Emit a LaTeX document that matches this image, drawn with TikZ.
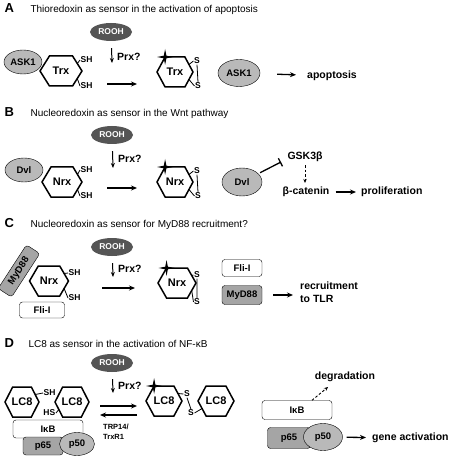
\documentclass[tikz,border=0pt]{standalone}
\usepackage{fontspec}
\setmainfont{Liberation Sans}
\usepackage{tikz}
\usetikzlibrary{arrows.meta}
\usetikzlibrary{shapes.geometric}
\definecolor{roohgray}{RGB}{85,85,85}
\definecolor{protgray}{RGB}{185,185,185}
\definecolor{boxgray}{RGB}{165,165,165}
\newcommand{\hexa}[4][20]{%
  \node[hexlbl] (#2) at (#3) {#4};
  \path (#2.center)
    +(-#1,0) coordinate (#2-l)
    +({-0.55*#1},-15) coordinate (#2-tl)
    +({0.55*#1},-15) coordinate (#2-tr)
    +(#1,0) coordinate (#2-r)
    +({0.55*#1},15) coordinate (#2-br)
    +({-0.55*#1},15) coordinate (#2-bl)
    +({0.775*#1},-7.5) coordinate (#2-ur)
    +({0.775*#1},7.5) coordinate (#2-lr)
    +({-0.775*#1},7.5) coordinate (#2-ll);
  \draw[hexline] (#2-l) -- (#2-tl) -- (#2-tr) -- (#2-r) -- (#2-br) -- (#2-bl) -- cycle;
}
\newcommand{\oxstar}[1]{%
  \fill (#1) +(0,-8) -- +(1.3,-1.3) -- +(8,0) -- +(1.3,1.3) -- +(0,8) -- +(-1.3,1.3) -- +(-8,0) -- +(-1.3,-1.3) -- cycle;
}
\tikzset{
    panel/.style={anchor=base west, font=\fontsize{13}{15}\selectfont\bfseries},
    ttl/.style={anchor=base west, font=\fontsize{10}{12}\selectfont},
    lbl/.style={font=\fontsize{10.5}{12.5}\selectfont\bfseries, inner sep=1pt},
    small/.style={font=\fontsize{8.5}{10}\selectfont\bfseries, inner sep=0.5pt},
    hexlbl/.style={font=\fontsize{11}{13}\selectfont\bfseries, inner sep=0pt},
    hexline/.style={line width=1.5pt, line join=miter},
    rooh/.style={ellipse, fill=roohgray, text=white, minimum width=42, minimum height=18, inner sep=0pt, font=\fontsize{8.5}{10}\selectfont\bfseries},
    prot/.style={ellipse, draw, fill=protgray, minimum width=38, minimum height=24, inner sep=0pt, font=\fontsize{9.5}{11}\selectfont\bfseries},
    pbox/.style={rectangle, rounded corners=3, draw, minimum width=40, minimum height=17, inner sep=0pt, font=\fontsize{9.5}{11}\selectfont\bfseries},
    prxarrow/.style={-{Stealth[length=5pt,width=4pt]}, line width=1pt},
    react/.style={-{Stealth[length=6pt,width=5pt]}, line width=1.3pt},
    dasharrow/.style={-{Stealth[length=4pt,width=3.5pt]}, line width=0.9pt, dash pattern=on 2.5pt off 2pt},
    inhib/.style={-{Bar[width=9pt,line width=1.3pt]}, line width=1.3pt},
    bond/.style={line width=0.8pt}
}
\begin{document}
\begin{tikzpicture}[x=1pt, y=-1pt]
    \useasboundingbox (0,0) rectangle (454,462);

    % A: thioredoxin
    \node[panel] (labA) at (1,13) {A};
    \node[ttl] (ttlA) at (27,13) {Thioredoxin as sensor in the activation of apoptosis};
    \node[rooh] (roohA) at (111,32) {ROOH};
    \coordinate (prxA) at (112,63);
    \node[lbl, anchor=west] (prxlA) at (116,57) {Prx?};
    \hexa[21]{trxA}{61,71}{Trx}
    \node[prot] (ask1A) at (23,62) {ASK1};
    \node[small, anchor=west] (shA1) at (80,60) {SH};
    \node[small, anchor=west] (shA2) at (80,86) {SH};
    \coordinate (arrA1) at (107,84);
    \coordinate (arrA2) at (137,84);
    \hexa[18]{oxA}{175,72}{Trx}
    \oxstar{oxA-tl}
    \node[small] (sA1) at (197,61) {S};
    \node[small] (sA2) at (198,86) {S};
    \node[prot, minimum width=42, minimum height=27] (ask1A2) at (239,73) {ASK1};
    \node[lbl, anchor=west] (apopA) at (306,76) {apoptosis};

    \draw[prxarrow, shorten <=7] (roohA) -- (prxA);
    \draw[bond] (trxA-ur) -- (shA1.west) (trxA-lr) -- (shA2.west);
    \draw[react] (arrA1) -- (arrA2);
    \draw[bond] (oxA-ur) -- (sA1.west) (oxA-lr) -- (sA2.west) (sA1.south) -- (sA2.north);
    \draw[react, shorten <=17, shorten >=10] (ask1A2) -- (apopA);

    % B: nucleoredoxin, Wnt
    \node[panel] (labB) at (1,117) {B};
    \node[ttl] (ttlB) at (27,117) {Nucleoredoxin as sensor in the Wnt pathway};
    \node[rooh] (roohB) at (112,135) {ROOH};
    \coordinate (prxB) at (113,168);
    \node[lbl, anchor=west] (prxlB) at (117,159) {Prx?};
    \hexa{nrxB}{62,182}{Nrx}
    \node[prot] (dvlB) at (24,170) {Dvl};
    \node[small, anchor=west] (shB1) at (80,170) {SH};
    \node[small, anchor=west] (shB2) at (80,196) {SH};
    \coordinate (arrB1) at (107,188);
    \coordinate (arrB2) at (137,188);
    \hexa[18]{oxB}{175,182}{Nrx}
    \oxstar{oxB-tl}
    \node[small] (sB1) at (197,171) {S};
    \node[small] (sB2) at (198,196) {S};
    \node[prot, minimum width=40, minimum height=28] (dvlB2) at (242,182) {Dvl};
    \coordinate (barB) at (281,162);
    \node[lbl] (gskB) at (305,157) {GSK3β};
    \node[lbl] (catB) at (306,192) {β-catenin};
    \node[lbl, anchor=west] (prolB) at (360,192) {proliferation};

    \draw[prxarrow, shorten <=7] (roohB) -- (prxB);
    \draw[bond] (nrxB-ur) -- (shB1.west) (nrxB-lr) -- (shB2.west);
    \draw[react] (arrB1) -- (arrB2);
    \draw[bond] (oxB-ur) -- (sB1.west) (oxB-lr) -- (sB2.west) (sB1.south) -- (sB2.north);
    \draw[inhib, shorten <=2] (dvlB2) -- (barB);
    \draw[dasharrow, shorten <=2, shorten >=3] (gskB.south) -- (gskB.south |- catB.north);
    \draw[react, shorten <=5, shorten >=4] (catB) -- (prolB);

    % C: nucleoredoxin, MyD88
    \node[panel] (labC) at (1,227) {C};
    \node[ttl] (ttlC) at (27,227) {Nucleoredoxin as sensor for MyD88 recruitment?};
    \node[rooh] (roohC) at (112,247) {ROOH};
    \coordinate (prxC) at (113,277);
    \node[lbl, anchor=west] (prxlC) at (117,269) {Prx?};
    \hexa[19.5]{nrxC}{49,281}{Nrx}
    \node[pbox, fill=boxgray, minimum width=52, minimum height=16, rotate=57] (mydC) at (19,271) {MyD88};
    \node[pbox, fill=white, minimum width=45, minimum height=16] (fliC) at (42,310) {Fli-I};
    \node[small, anchor=west] (shC1) at (68,273) {SH};
    \node[small, anchor=west] (shC2) at (68,298) {SH};
    \coordinate (arrC1) at (102,288);
    \coordinate (arrC2) at (135,288);
    \hexa[19]{oxC}{177,283}{Nrx}
    \oxstar{oxC-tl}
    \node[small] (sC1) at (197,275) {S};
    \node[small] (sC2) at (197,302) {S};
    \node[pbox, fill=white] (fliC2) at (242,268) {Fli-I};
    \node[pbox, fill=boxgray, minimum height=19] (mydC2) at (242,295) {MyD88};
    \node[lbl, anchor=west, align=left] (recC) at (299,292) {recruitment\\to TLR};

    \draw[prxarrow, shorten <=7] (roohC) -- (prxC);
    \draw[bond] (nrxC-ur) -- (shC1.west) (nrxC-lr) -- (shC2.west);
    \draw[react] (arrC1) -- (arrC2);
    \draw[bond] (oxC-ur) -- (sC1.west) (oxC-lr) -- (sC2.west) (sC1.south) -- (sC2.north);
    \draw[react, shorten <=11, shorten >=6] (mydC2) -- (mydC2 -| recC.west);

    % D: LC8, NF-kB
    \node[panel] (labD) at (1,347) {D};
    \node[ttl] (ttlD) at (25,347) {LC8 as sensor in the activation of NF-κB};
    \node[rooh] (roohD) at (112,363) {ROOH};
    \coordinate (prxD) at (113,393);
    \node[lbl, anchor=west] (prxlD) at (117,386) {Prx?};
    \hexa[17]{lcA}{22,402}{LC8}
    \hexa[17]{lcB}{72,402}{LC8}
    \node[small, anchor=west] (shD) at (43,393) {SH};
    \node[small, anchor=east] (hsD) at (56,413) {HS};
    \node[pbox, fill=white, minimum width=70, minimum height=18] (ikbD) at (48,429) {IκB};
    \node[pbox, fill=boxgray, minimum width=40, minimum height=18] (p65D) at (43,446) {p65};
    \node[prot, minimum width=35, minimum height=23] (p50D) at (77,444) {p50};
    \coordinate (fwdD1) at (100,406);
    \coordinate (fwdD2) at (137,406);
    \coordinate (bwdD1) at (137,415);
    \coordinate (bwdD2) at (100,415);
    \node[font=\fontsize{7.5}{10}\selectfont\bfseries, anchor=north west, align=left, inner sep=0pt] (trpD) at (103,424) {TRP14/\\TrxR1};
    \hexa[18]{oxD}{164,401}{LC8}
    \oxstar{oxD-tl}
    \node[small] (sD1) at (187,394) {S};
    \node[small] (sD2) at (191,413) {S};
    \hexa[18]{lcC}{216,401}{LC8}
    \node[lbl] (degD) at (345,377) {degradation};
    \coordinate (degtip) at (328,387);
    \node[pbox, fill=white, minimum width=70, minimum height=19] (ikbD2) at (297,410) {IκB};
    \node[pbox, fill=boxgray, minimum width=43, minimum height=21] (p65D2) at (289,438) {p65};
    \node[prot, minimum width=39, minimum height=27] (p50D2) at (323,437) {p50};
    \node[lbl, anchor=west] (geneD) at (371,438) {gene activation};

    \draw[prxarrow, shorten <=7] (roohD) -- (prxD);
    \draw[bond] (lcA-ur) -- (shD.west) (hsD.east) -- (lcB-ll);
    \draw[react] (fwdD1) -- (fwdD2);
    \draw[react] (bwdD1) -- (bwdD2);
    \draw[bond] (oxD-ur) -- (sD1.west) (sD1.south) -- (sD2.north) (sD2.east) -- (lcC-ll);
    \draw[dasharrow] ([xshift=15]ikbD2.north) -- (degtip);
    \draw[react, shorten <=4, shorten >=5] (p50D2) -- (geneD);
\end{tikzpicture}
\end{document}
